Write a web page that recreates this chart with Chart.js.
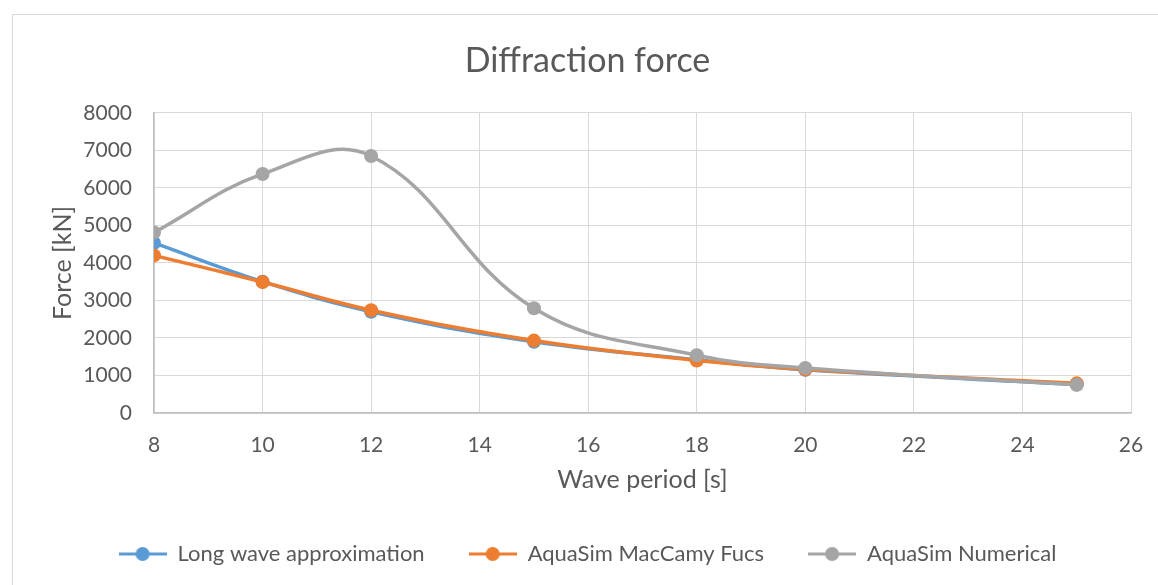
<!DOCTYPE html>
<html>
<head>
<meta charset="utf-8">
<script src="https://cdn.jsdelivr.net/npm/chart.js@4"></script>
<style>
  body { margin: 0; background: #fff; }
  #wrap { position: relative; width: 1158px; height: 585px; }
  #frame { position: absolute; left: 12px; top: 14px; width: 1160px; height: 600px; border: 1px solid #d9d9d9; box-sizing: border-box; pointer-events: none; }
</style>
</head>
<body>
<div id="wrap">
  <canvas id="myChart" width="1158" height="585"></canvas>
  <div id="frame"></div>
</div>
<script>
// wave periods [s]
var periods = [8, 10, 12, 15, 18, 20, 25];

// forces [kN]
var longWave = [4530, 3500, 2700, 1900, 1420, 1150, 760];
var macCamy = [4200, 3490, 2740, 1930, 1400, 1160, 790];
var numerical = [4810, 6370, 6850, 2790, 1540, 1200, 750];

var seriesNames = ["Long wave approximation", "AquaSim MacCamy Fucs", "AquaSim Numerical"];
var seriesColors = ["#5B9BD5", "#ED7D31", "#A5A5A5"];

var xTicks = [8, 10, 12, 14, 16, 18, 20, 22, 24, 26];
var yTicks = [0, 1000, 2000, 3000, 4000, 5000, 6000, 7000, 8000];

var txtColor = "#595959";
var fontFam = "Lato, 'Open Sans', sans-serif";

function toPoints(vals) {
    var pts = [];
    for (var i = 0; i < periods.length; i++) {
        pts.push({ x: periods[i], y: vals[i] });
    }
    return pts;
}

// legend marker: short line with a dot in the middle
function legendIcon(color) {
    var c = document.createElement("canvas");
    c.width = 48;
    c.height = 16;
    var g = c.getContext("2d");
    g.strokeStyle = color;
    g.lineWidth = 3;
    g.beginPath();
    g.moveTo(0, 8);
    g.lineTo(48, 8);
    g.stroke();
    g.fillStyle = color;
    g.beginPath();
    g.arc(24, 8, 7, 0, Math.PI * 2);
    g.fill();
    return c;
}

var allVals = [longWave, macCamy, numerical];
var datasets = [];
for (var i = 0; i < allVals.length; i++) {
    datasets.push({
        label: seriesNames[i],
        data: toPoints(allVals[i]),
        borderColor: seriesColors[i],
        backgroundColor: seriesColors[i],
        borderWidth: 3.5,
        pointRadius: 7,
        pointHoverRadius: 7,
        pointBorderWidth: 0,
        showLine: true,
        tension: 0.4,
        order: 3 - i
    });
}

const config = {
    type: 'scatter',
    data: { datasets: datasets },
    options: {
        responsive: false,
        animation: false,
        layout: { padding: { left: 44, right: 27, top: 18, bottom: 10 } },
        plugins: {
            title: {
                display: true,
                text: "Diffraction force",
                color: txtColor,
                font: { family: fontFam, size: 34, weight: 'normal' },
                padding: { top: 23, bottom: 31 }
            },
            legend: {
                position: 'bottom',
                labels: {
                    usePointStyle: true,
                    pointStyleWidth: 48,
                    color: txtColor,
                    font: { family: fontFam, size: 22 },
                    padding: 44,
                    sort: function (a, b) { return a.datasetIndex - b.datasetIndex; },
                    generateLabels: function (chart) {
                        var items = Chart.defaults.plugins.legend.labels.generateLabels(chart);
                        items.forEach(function (it) {
                            it.pointStyle = legendIcon(seriesColors[it.datasetIndex]);
                        });
                        return items;
                    }
                }
            },
            tooltip: { enabled: false }
        },
        scales: {
            x: {
                type: 'linear',
                min: 8,
                max: 26,
                afterBuildTicks: function (axis) {
                    axis.ticks = xTicks.map(function (v) { return { value: v }; });
                },
                afterFit: function (axis) {
                    axis.height = 86;
                    axis.paddingRight = 0;
                    axis.paddingLeft = 0;
                },
                grid: { color: "#d9d9d9", drawTicks: false },
                border: { color: "#bfbfbf", width: 1.5 },
                ticks: {
                    color: txtColor,
                    padding: 20,
                    font: { family: fontFam, size: 21 },
                    callback: function (v) { return String(v); }
                },
                title: {
                    display: true,
                    text: "Wave period [s]",
                    color: txtColor,
                    font: { family: fontFam, size: 25 },
                    padding: { top: 13 }
                }
            },
            y: {
                min: 0,
                max: 8000,
                afterBuildTicks: function (axis) {
                    axis.ticks = yTicks.map(function (v) { return { value: v }; });
                },
                afterFit: function (axis) { axis.width = 110; },
                grid: { color: "#d9d9d9", drawTicks: false },
                border: { color: "#bfbfbf", width: 1.5 },
                ticks: {
                    color: txtColor,
                    padding: 22,
                    font: { family: fontFam, size: 21 },
                    callback: function (v) { return String(v); }
                },
                title: {
                    display: true,
                    text: "Force [kN]",
                    color: txtColor,
                    font: { family: fontFam, size: 25 },
                    padding: { top: 4, bottom: 0 }
                }
            }
        }
    }
};

const myChart = new Chart(document.getElementById("myChart"), config);
</script>
</body>
</html>
